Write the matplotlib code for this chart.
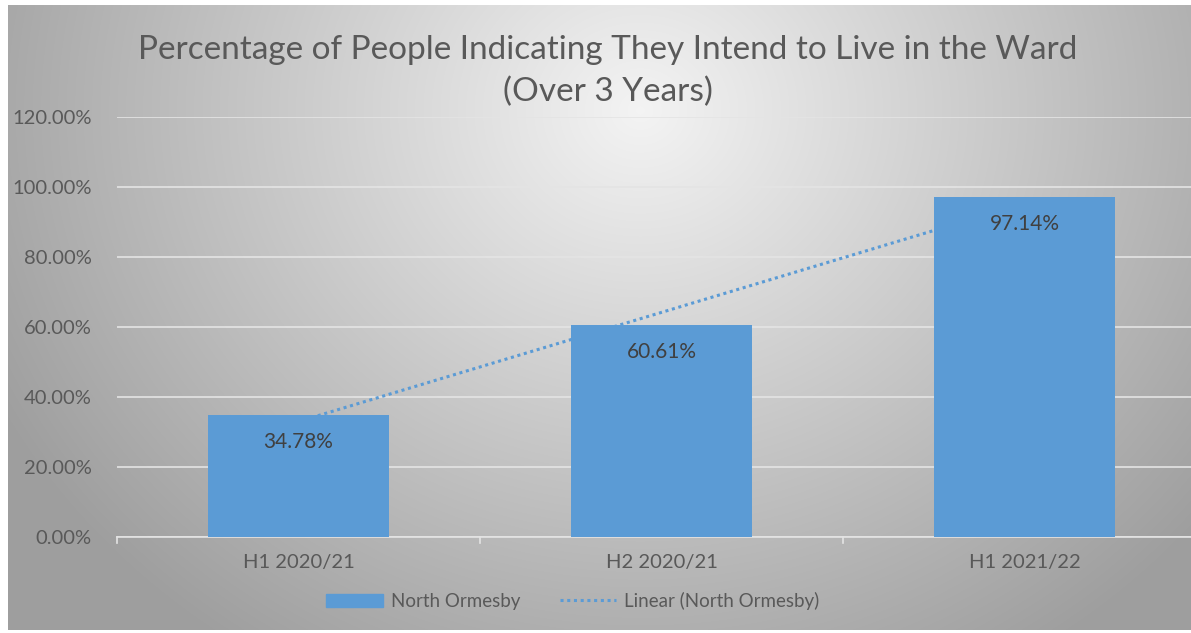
import numpy as np
import matplotlib.pyplot as plt
from matplotlib.patches import Rectangle
from matplotlib.lines import Line2D
from matplotlib.ticker import FuncFormatter

categories = ["H1 2020/21", "H2 2020/21", "H1 2021/22"]
values = [34.78, 60.61, 97.14]
series_name = "North Ormesby"
title = "Percentage of People Indicating They Intend to Live in the Ward\n(Over 3 Years)"

W, H = 1191, 633
fig = plt.figure(figsize=(W / 100, H / 100), dpi=100)
plt.rcParams["font.family"] = ["Lato", "DejaVu Sans"]

# background: radial grey gradient like the Office chart style
bg = fig.add_axes([0, 0, 1, 1], zorder=0)
bg.set_xlim(0, W)
bg.set_ylim(H, 0)
bg.axis(False)
yy, xx = np.mgrid[0:H, 0:W]
dist = np.sqrt(((xx - 640) / 780.0) ** 2 + ((yy - 110) / 700.0) ** 2)
shade = np.clip(0.955 - 0.36 * dist, 0.62, 0.955)
img = np.dstack([shade, shade, shade])
img[:5, :] = 1.0
img[:, :8] = 1.0
img[630:, :] = 1.0
bg.imshow(img, extent=(0, W, H, 0), aspect="auto", interpolation="bilinear")

# plot area
left, right = 117, 1206
top, bottom = 117, 537
ax = fig.add_axes([left / W, 1 - bottom / H, (right - left) / W, (bottom - top) / H], zorder=1)
ax.patch.set_alpha(0)
x = np.arange(len(categories))
bar_color = "#5B9BD5"
ax.bar(x, values, width=0.5, color=bar_color, zorder=3)
for xi, v in zip(x, values):
    ax.annotate(f"{v:.2f}%", (xi, v), xytext=(0, -12), textcoords="offset points",
                ha="center", va="top", fontsize=15, color="#404040", zorder=5)

# linear trendline
k, b = np.polyfit(x, values, 1)
ax.plot(x, k * x + b, linestyle=(0, (1, 1.2)), color=bar_color, lw=2.2, zorder=4)

ax.set_xlim(-0.5, 2.5)
ax.set_ylim(0, 120)
ax.set_yticks(np.arange(0, 121, 20))
ax.yaxis.set_major_formatter(FuncFormatter(lambda v, p: f"{v:.2f}%"))
ax.grid(axis="y", color="#E4E4E4", lw=1.2, zorder=1)
ax.set_xticks(x)
ax.set_xticklabels(categories)
ax.tick_params(axis="y", length=0, pad=18, labelsize=14.5, labelcolor="#595959")
ax.tick_params(axis="x", length=0, pad=12, labelsize=14.5, labelcolor="#595959")
for s in ["top", "right", "left"]:
    ax.spines[s].set_visible(False)
ax.spines["bottom"].set_color("#E4E4E4")
ax.spines["bottom"].set_linewidth(1.2)
for bx in [-0.5, 0.5, 1.5]:
    ax.plot([bx, bx], [0, -1.6], color="#E4E4E4", lw=1.2, clip_on=False, zorder=2)

fig.text(608 / W, 1 - 71 / H, title, ha="center", va="center", fontsize=24,
         color="#595959", linespacing=1.5)

handles = [Rectangle((0, 0), 1, 1, color=bar_color),
           Line2D([0], [0], color=bar_color, linestyle=(0, (1, 1.2)), lw=2.2)]
fig.legend(handles, [series_name, f"Linear ({series_name})"], loc="center",
           bbox_to_anchor=(573 / W, 1 - 601 / H), ncol=2, frameon=False,
           fontsize=13.5, labelcolor="#595959", handlelength=3.0, handleheight=0.75,
           columnspacing=2.1, handletextpad=0.45)

fig.savefig("out.png", dpi=100)
